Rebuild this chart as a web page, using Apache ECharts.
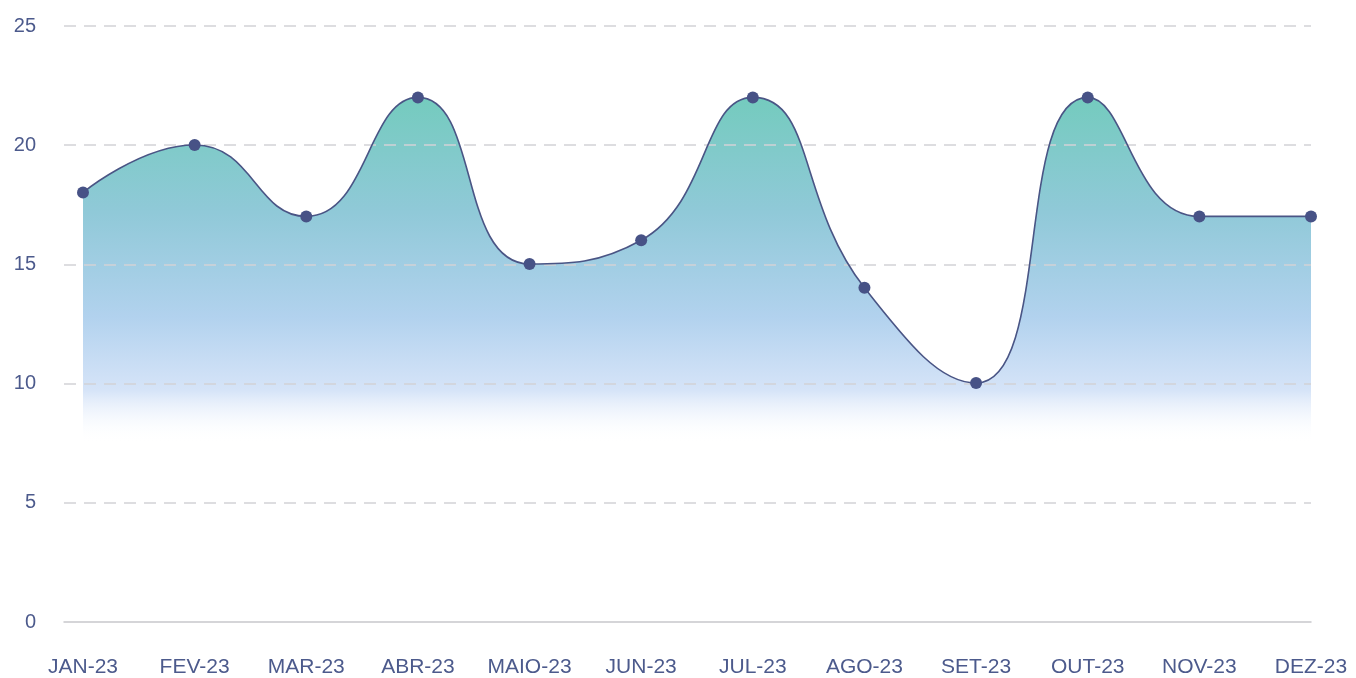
<!DOCTYPE html>
<html>
<head>
<meta charset="utf-8">
<script src="https://cdn.jsdelivr.net/npm/echarts@6/dist/echarts.min.js"></script>
<style>
html,body{margin:0;padding:0;background:#fff;}
#chart{width:1356px;height:678px;}
</style>
</head>
<body>
<div id="chart"></div>
<script>
var categories = ['JAN-23','FEV-23','MAR-23','ABR-23','MAIO-23','JUN-23','JUL-23','AGO-23','SET-23','OUT-23','NOV-23','DEZ-23'];
var values = [18, 20, 17, 22, 15, 16, 22, 14, 10, 22, 17, 17];
var yMin = 0, yMax = 25, yStep = 5;

var labelColor = '#4c5a8c';
var fontFam = '"Liberation Sans", Arial, sans-serif';

var chart = echarts.init(document.getElementById('chart'), null, {renderer: 'canvas'});
chart.setOption({
  animation: false,
  backgroundColor: '#ffffff',
  grid: [
    {left: 64, right: 45, top: 26, bottom: 56, containLabel: false},
    {left: 83, right: 45, top: 26, bottom: 56, containLabel: false}
  ],
  xAxis: [
    {
      gridIndex: 0, type: 'category', data: categories, boundaryGap: false, z: 5,
      axisLine: {show: true, lineStyle: {color: '#c8c8cc', width: 1.5}},
      axisTick: {show: false}, axisLabel: {show: false}, splitLine: {show: false}
    },
    {
      gridIndex: 1, type: 'category', data: categories, boundaryGap: false,
      axisLine: {show: false}, axisTick: {show: false}, splitLine: {show: false},
      axisLabel: {
        show: true, interval: 0, hideOverlap: false, margin: 36,
        color: labelColor, fontSize: 21, fontFamily: fontFam
      }
    }
  ],
  yAxis: [
    {
      gridIndex: 0, type: 'value', min: yMin, max: yMax, interval: yStep, z: 5,
      axisLine: {show: false}, axisTick: {show: false},
      axisLabel: {color: labelColor, fontSize: 20, fontFamily: fontFam, margin: 28},
      splitLine: {
        show: true, showMinLine: false,
        lineStyle: {color: '#d2d2d6', width: 1.5, type: [12, 8]}
      }
    },
    {
      gridIndex: 1, type: 'value', min: yMin, max: yMax, interval: yStep,
      show: false, splitLine: {show: false}
    }
  ],
  series: [
    {
      type: 'line',
      xAxisIndex: 1, yAxisIndex: 1,
      data: values,
      smooth: 0.5,
      showSymbol: false,
      lineStyle: {width: 0, opacity: 0},
      areaStyle: {
        opacity: 1,
        color: new echarts.graphic.LinearGradient(0, 0, 0, 1, [
          {offset: 0, color: '#74cbbe'},
          {offset: 0.22, color: '#90c9d8'},
          {offset: 0.42, color: '#b2d2ee'},
          {offset: 0.56, color: '#d6e4f8'},
          {offset: 0.66, color: 'rgba(255,255,255,0)'},
          {offset: 1, color: 'rgba(255,255,255,0)'}
        ])
      },
      silent: true,
      z: 1
    },
    {
      type: 'line',
      xAxisIndex: 1, yAxisIndex: 1,
      data: values,
      smooth: 0.5,
      symbol: 'circle',
      symbolSize: 12,
      showSymbol: true,
      itemStyle: {color: '#475286', borderWidth: 0},
      lineStyle: {color: '#4a5585', width: 1.6},
      z: 8
    }
  ]
});
</script>
</body>
</html>
